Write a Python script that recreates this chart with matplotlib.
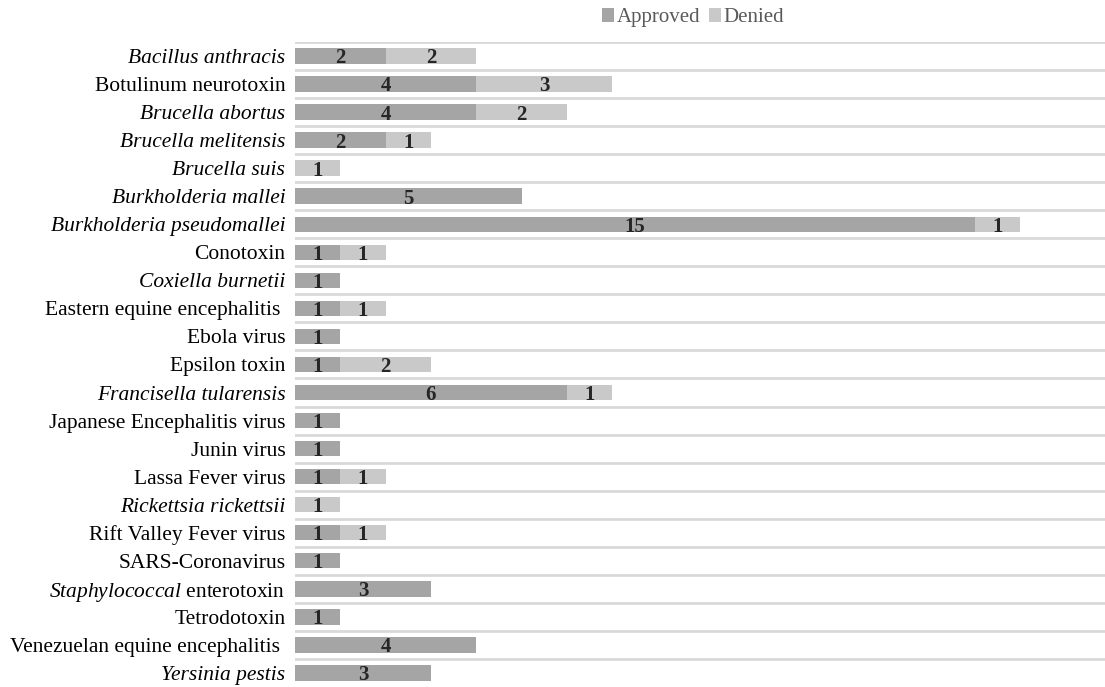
import matplotlib
matplotlib.use('Agg')
import matplotlib.pyplot as plt
import numpy as np

agents = [
    'Bacillus anthracis', 'Botulinum neurotoxin', 'Brucella abortus',
    'Brucella melitensis', 'Brucella suis', 'Burkholderia mallei',
    'Burkholderia pseudomallei', 'Conotoxin', 'Coxiella burnetii',
    'Eastern equine encephalitis ', 'Ebola virus', 'Epsilon toxin',
    'Francisella tularensis', 'Japanese Encephalitis virus', 'Junin virus',
    'Lassa Fever virus', 'Rickettsia rickettsii', 'Rift Valley Fever virus',
    'SARS-Coronavirus', r'$\mathit{Staphylococcal}$ enterotoxin',
    'Tetrodotoxin', 'Venezuelan equine encephalitis ', 'Yersinia pestis',
]
italic_names = {
    'Bacillus anthracis', 'Brucella abortus', 'Brucella melitensis',
    'Brucella suis', 'Burkholderia mallei', 'Burkholderia pseudomallei',
    'Coxiella burnetii', 'Francisella tularensis', 'Rickettsia rickettsii',
    'Yersinia pestis',
}
approved = [2, 4, 4, 2, 0, 5, 15, 1, 1, 1, 1, 1, 6, 1, 1, 1, 0, 1, 1, 3, 1, 4, 3]
denied = [2, 3, 2, 1, 1, 0, 1, 1, 0, 1, 0, 2, 1, 0, 0, 1, 1, 1, 0, 0, 0, 0, 0]

plt.rcParams['font.family'] = ['Liberation Serif', 'DejaVu Serif']
plt.rcParams['mathtext.fontset'] = 'custom'
plt.rcParams['mathtext.rm'] = 'Liberation Serif'
plt.rcParams['mathtext.it'] = 'Liberation Serif:italic'

fig = plt.figure(figsize=(11.05, 6.87), dpi=100)
ax = fig.add_axes([0.267, 0.0, 0.733, 0.939])

y = np.arange(len(agents))
h = 0.55
bars_a = ax.barh(y, approved, height=h, color='#a5a5a5', label='Approved')
bars_d = ax.barh(y, denied, left=approved, height=h, color='#c9c9c9', label='Denied')

# value labels centred in each non-empty segment
for bars, vals in ((bars_a, approved), (bars_d, denied)):
    for b, v in zip(bars, vals):
        if v > 0:
            ax.text(b.get_x() + b.get_width() / 2, b.get_y() + b.get_height() / 2,
                    str(v), ha='center', va='center_baseline', fontsize=15,
                    fontweight='bold', color='#262626')

ax.set_ylim(len(agents) - 0.5, -0.5)
ax.set_xlim(0, 17.88)
for k in range(len(agents)):
    ax.axhline(k - 0.5, color='#d9d9d9', lw=2, zorder=0)

ax.set_yticks(y)
ax.set_yticklabels(agents, fontsize=15.5, color='#000000')
for lab, name in zip(ax.get_yticklabels(), agents):
    if name in italic_names:
        lab.set_fontstyle('italic')
ax.tick_params(axis='y', length=0, pad=7)
ax.set_xticks([])
for s in ax.spines.values():
    s.set_visible(False)

leg = fig.legend(loc='upper center', bbox_to_anchor=(0.627, 1.015), ncol=2,
                 frameon=False, fontsize=15, handlelength=0.6, handleheight=0.6,
                 handletextpad=0.1, columnspacing=0.4)
for t in leg.get_texts():
    t.set_color('#595959')

fig.savefig('out.png', dpi=100)
